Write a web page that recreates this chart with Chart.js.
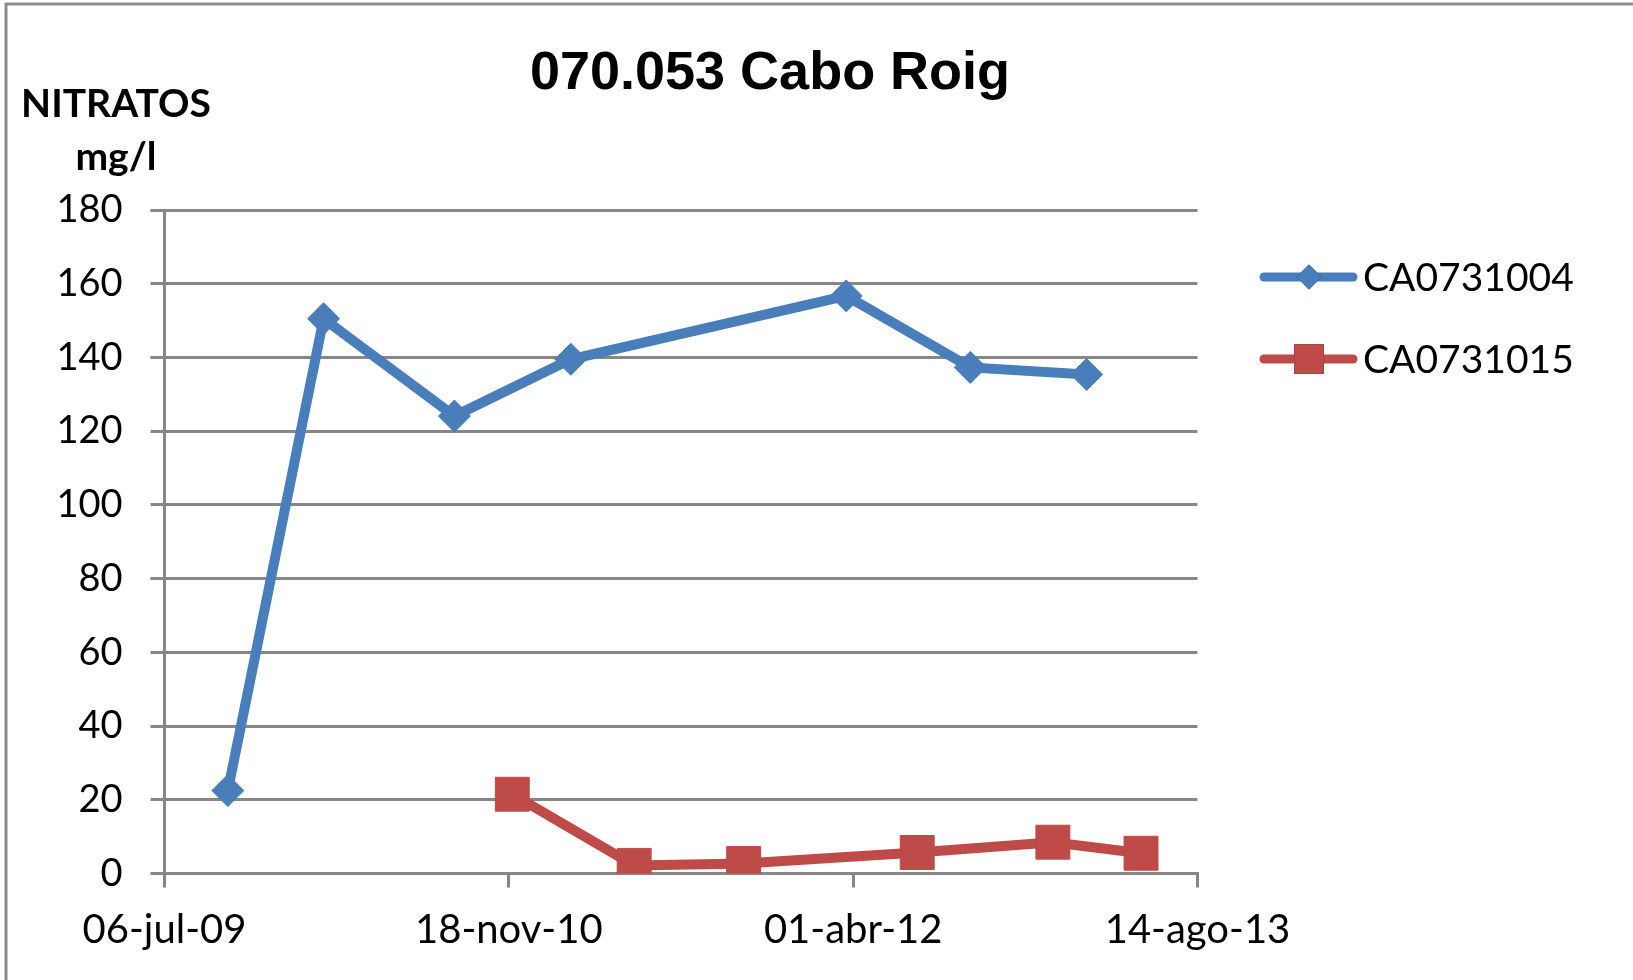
<!DOCTYPE html>
<html>
<head>
<meta charset="utf-8">
<title>070.053 Cabo Roig</title>
<script src="https://cdn.jsdelivr.net/npm/chart.js@4/dist/chart.umd.min.js"></script>
<style>
  html,body{margin:0;padding:0;background:#fff;}
  #wrap{width:1633px;height:980px;}
</style>
</head>
<body>
<div id="wrap"><canvas id="chart" width="1633" height="980"></canvas></div>
<script>
// ==== Data ====
const chartTitle = '070.053 Cabo Roig';
const yTitle = ['NITRATOS', 'mg/l'];

const s1Name = 'CA0731004';
const s1Dates = ['2009-10-06','2010-02-22','2010-08-31','2011-02-16','2012-03-22','2012-09-18','2013-03-06'];
const s1Values = [22.5, 150.5, 124.1, 139.5, 156.7, 137.3, 135.4];

const s2Name = 'CA0731015';
const s2Dates = ['2010-11-23','2011-05-19','2011-10-25','2012-07-03','2013-01-16','2013-05-24'];
const s2Values = [21.5, 2.2, 2.7, 5.7, 8.5, 5.5];

const xTickDates = ['2009-07-06','2010-11-18','2012-04-01','2013-08-14'];
const xTickLabels = ['06-jul-09','18-nov-10','01-abr-12','14-ago-13'];
const yTicks = [0, 20, 40, 60, 80, 100, 120, 140, 160, 180];

// ==== Helpers ====
// excel style day serial so the axis spacing is in days
function serial(s){
  const [y,m,d] = s.split('-').map(Number);
  return (Date.UTC(y,m-1,d) - Date.UTC(1899,11,30)) / 86400000;
}
const pts = (dates, vals) => dates.map((d,i) => ({x: serial(d), y: vals[i]}));
const xTickVals = xTickDates.map(serial);

const BLUE = '#4a7ebb';
const RED = '#be4b48';
const GRID = '#878787';
const FONT = 'Lato';

// ==== Title, axis title, legend, frame ====
const decor = {
  id: 'decor',
  beforeDraw(chart){
    const c = chart.ctx;
    c.save();
    c.fillStyle = '#fff';
    c.fillRect(0,0,chart.width,chart.height);
    c.strokeStyle = '#8c8c8c';
    c.lineWidth = 3;
    c.beginPath();
    c.moveTo(6, chart.height); c.lineTo(6, 4); c.lineTo(chart.width, 4);
    c.stroke();
    c.restore();
  },
  afterDraw(chart){
    const c = chart.ctx;
    c.save();
    c.fillStyle = '#000';
    c.textAlign = 'center';
    c.textBaseline = 'alphabetic';
    c.font = 'bold 54px "Liberation Sans", Arial, sans-serif';
    c.fillText(chartTitle, 770, 89);
    c.font = `bold 39px ${FONT}`;
    c.fillText(yTitle[0], 116, 117);
    c.fillText(yTitle[1], 116, 170);

    // legend: line + marker like the series
    const rows = [
      {ds: chart.data.datasets[0], y: 277, r: 12.5},
      {ds: chart.data.datasets[1], y: 359, r: 21}
    ];
    rows.forEach(row => {
      const ds = row.ds;
      c.strokeStyle = ds.borderColor;
      c.lineWidth = 9;
      c.lineCap = 'round';
      c.beginPath(); c.moveTo(1264, row.y); c.lineTo(1353, row.y); c.stroke();
      Chart.helpers.drawPoint(c, {pointStyle: ds.pointStyle, radius: row.r, borderWidth: 0, rotation: 0}, 1309, row.y);
      c.fillStyle = ds.pointBackgroundColor;
      c.fill();
      c.fillStyle = '#000';
      c.textAlign = 'left';
      c.font = `39px ${FONT}`;
      c.fillText(ds.label, 1363, row.y + 14);
    });
    c.restore();
  }
};

// ==== Chart ====
new Chart(document.getElementById('chart').getContext('2d'), {
  type: 'line',
  data: {
    datasets: [
      {
        label: s1Name,
        data: pts(s1Dates, s1Values),
        borderColor: BLUE,
        backgroundColor: BLUE,
        pointBackgroundColor: BLUE,
        pointBorderColor: BLUE,
        borderWidth: 10,
        pointStyle: 'rectRot',
        pointRadius: 16,
        pointBorderWidth: 1,
        tension: 0
      },
      {
        label: s2Name,
        data: pts(s2Dates, s2Values),
        borderColor: RED,
        backgroundColor: RED,
        pointBackgroundColor: RED,
        pointBorderColor: RED,
        borderWidth: 10,
        pointStyle: 'rect',
        pointRadius: 24,
        pointBorderWidth: 1,
        tension: 0
      }
    ]
  },
  options: {
    responsive: false,
    animation: false,
    devicePixelRatio: 1,
    layout: { padding: { top: 210, right: 435.5, left: 0, bottom: 0 } },
    plugins: { legend: { display: false }, title: { display: false }, tooltip: { enabled: false } },
    scales: {
      x: {
        type: 'linear',
        min: xTickVals[0],
        max: xTickVals[xTickVals.length-1],
        afterBuildTicks: s => { s.ticks = xTickVals.map(v => ({value: v})); },
        afterFit: s => { s.height = 106.5; },
        ticks: {
          color: '#000',
          font: { family: FONT, size: 40 },
          padding: 19,
          maxRotation: 0,
          autoSkip: false,
          callback: v => xTickLabels[xTickVals.indexOf(v)]
        },
        grid: { drawOnChartArea: false, drawTicks: true, tickLength: 14, color: GRID, lineWidth: 3 },
        border: { display: true, color: GRID, width: 3 }
      },
      y: {
        min: yTicks[0],
        max: yTicks[yTicks.length-1],
        afterBuildTicks: s => { s.ticks = yTicks.map(v => ({value: v})); },
        afterFit: s => { s.width = 164.5; },
        ticks: {
          color: '#000',
          font: { family: FONT, size: 38 },
          padding: 28
        },
        grid: { color: GRID, lineWidth: 3, tickLength: 14 },
        border: { display: true, color: GRID, width: 3 }
      }
    }
  },
  plugins: [decor]
});
</script>
</body>
</html>
